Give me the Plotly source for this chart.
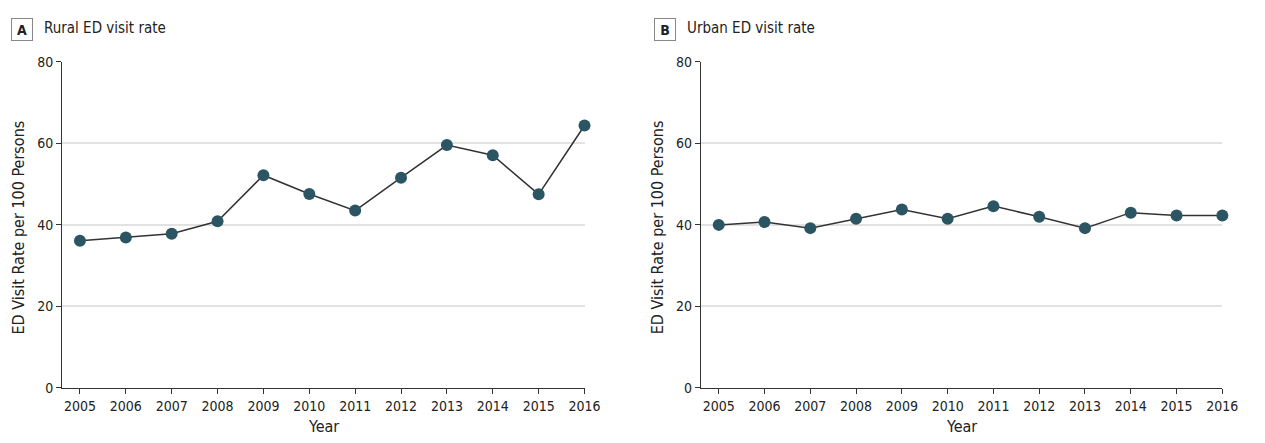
import plotly.graph_objects as go

years = [2005, 2006, 2007, 2008, 2009, 2010, 2011, 2012, 2013, 2014, 2015, 2016]
rural_rate = [36.1, 36.9, 37.8, 40.9, 52.2, 47.6, 43.5, 51.6, 59.6, 57.1, 47.5, 64.4]
urban_rate = [40.0, 40.7, 39.2, 41.5, 43.8, 41.5, 44.6, 42.0, 39.2, 43.0, 42.3, 42.3]
y_ticks = [0, 20, 40, 60, 80]
panel_letters = ["A", "B"]
panel_titles = ["Rural ED visit rate", "Urban ED visit rate"]
y_title = "ED Visit Rate per 100 Persons"
x_title = "Year"

FONT = "Liberation Sans Narrow, DejaVu Sans Condensed, Roboto, sans-serif"
MARK = "#2c5563"
W, H = 1265, 443

fig = go.Figure()
for i, vals in enumerate([rural_rate, urban_rate]):
    xa = "x" if i == 0 else "x2"
    ya = "y" if i == 0 else "y2"
    fig.add_trace(go.Scatter(
        x=years, y=vals, xaxis=xa, yaxis=ya, mode="lines+markers",
        line=dict(color="#333333", width=1.5),
        marker=dict(color=MARK, size=12, line=dict(width=0)),
        cliponaxis=False, showlegend=False,
    ))

ydom = [1 - 394 / H, 1 - 56 / H]
xdoms = [[63 / W, 592 / W], [710 / W, 1238 / W]]

axis_common = dict(
    showline=True, linecolor="#333333", linewidth=1.2,
    ticks="outside", ticklen=5, tickwidth=1.2, tickcolor="#333333",
    tickfont=dict(family=FONT, size=14, color="#222222"),
    zeroline=False,
)

for i in range(2):
    sfx = "" if i == 0 else "2"
    fig.layout["xaxis" + sfx] = dict(
        axis_common, domain=xdoms[i], anchor="y" + sfx,
        range=[2004.613, 2016], tickvals=years, ticktext=[str(y) for y in years],
        showgrid=False,
    )
    fig.layout["yaxis" + sfx] = dict(
        axis_common, domain=ydom, anchor="x" + sfx,
        range=[0, 80], tickvals=y_ticks, ticktext=[str(v) for v in y_ticks],
        showgrid=True, gridcolor="#e2e2e2", gridwidth=1.5,
    )

annotations = []
box_x = [11, 662]
for i in range(2):
    # panel letter box
    annotations.append(dict(
        x=box_x[i] / W, y=1 - 10 / H, xref="paper", yref="paper",
        xanchor="left", yanchor="top", text="<b>" + panel_letters[i] + "</b>",
        showarrow=False, font=dict(family=FONT, size=14, color="#222222"),
        bordercolor="#888888", borderwidth=1, borderpad=2,
        width=16, height=17, bgcolor="white",
    ))
    annotations.append(dict(
        x=(box_x[i] + 32) / W, y=1 - 21 / H, xref="paper", yref="paper",
        xanchor="left", yanchor="middle", text=panel_titles[i],
        showarrow=False, font=dict(family=FONT, size=15, color="#222222"),
    ))
    # y title
    annotations.append(dict(
        x=[19, 666][i] / W, y=1 - 228 / H, xref="paper", yref="paper",
        xanchor="center", yanchor="middle", text=y_title, textangle=-90,
        showarrow=False, font=dict(family=FONT, size=16, color="#222222"),
    ))
    # x title
    annotations.append(dict(
        x=(xdoms[i][0] + xdoms[i][1]) / 2, y=1 - 434 / H, xref="paper", yref="paper",
        xanchor="center", yanchor="middle", text=x_title,
        showarrow=False, font=dict(family=FONT, size=16, color="#222222"),
    ))

fig.update_layout(
    width=W, height=H, margin=dict(l=0, r=0, t=0, b=0),
    plot_bgcolor="white", paper_bgcolor="white",
    annotations=annotations,
    font=dict(family=FONT),
)

fig.write_html("out.html")
